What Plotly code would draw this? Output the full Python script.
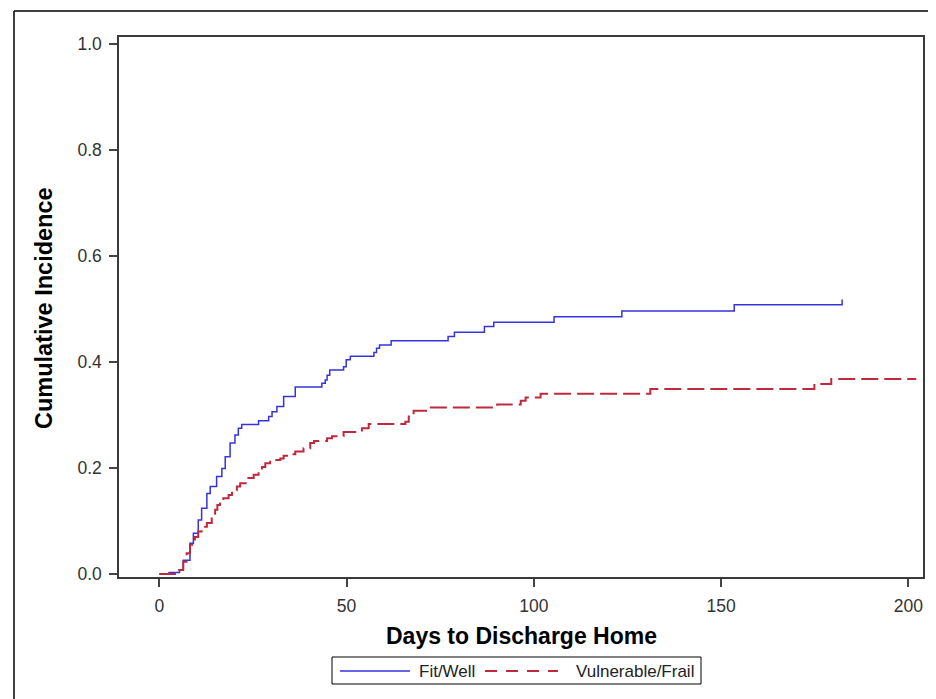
import plotly.graph_objects as go

# ---- data ----
fit_days = [0, 2.6, 5.4, 6.4, 8.2, 9.1, 10.4, 11.3, 12.7, 13.6, 15.3, 16.7, 17.6, 18.9, 20.2,
            21.1, 22.0, 26.5, 29.2, 30.1, 31.4, 33.2, 36.3, 43.4, 44.3, 44.8, 45.5, 49.2, 49.9,
            51.0, 57.3, 58.0, 58.8, 61.9, 77.1, 78.8, 86.8, 89.3, 105.4, 123.5, 153.5, 182.3]
fit_cif = [0, 0.003, 0.0075, 0.026, 0.058, 0.077, 0.102, 0.124, 0.152, 0.165, 0.184, 0.199, 0.221,
           0.247, 0.262, 0.275, 0.282, 0.289, 0.297, 0.306, 0.316, 0.335, 0.353, 0.360, 0.366,
           0.375, 0.385, 0.391, 0.404, 0.411, 0.418, 0.426, 0.432, 0.440, 0.448, 0.456, 0.467,
           0.475, 0.4855, 0.496, 0.508, 0.518]

frail_days = [0, 4.2, 5.3, 6.4, 7.3, 8.2, 9.5, 10.4, 11.3, 12.7, 14.0, 14.9, 15.5, 16.2, 17.1,
              18.5, 19.4, 20.7, 21.6, 23.4, 25.2, 26.5, 27.4, 28.3, 29.6, 32.3, 33.2, 34.5, 36.3,
              38.5, 40.3, 41.3, 44.8, 46.1, 49.2, 54.1, 55.9, 65.7, 66.6, 67.9, 71.9, 90.2, 96.5,
              97.8, 101.8, 131.1, 174.9, 179.4, 202.1]
frail_cif = [0, 0.003, 0.0075, 0.023, 0.039, 0.055, 0.070, 0.080, 0.089, 0.096, 0.108, 0.121,
             0.130, 0.133, 0.143, 0.149, 0.158, 0.165, 0.171, 0.181, 0.187, 0.193, 0.202, 0.209,
             0.215, 0.218, 0.223, 0.226, 0.231, 0.237, 0.247, 0.251, 0.256, 0.260, 0.268, 0.275,
             0.283, 0.287, 0.297, 0.308, 0.314, 0.320, 0.327, 0.333, 0.340, 0.349, 0.3585,
             0.368, 0.368]

series_names = ["Fit/Well", "Vulnerable/Frail"]
x_ticks = [0, 50, 100, 150, 200]
y_ticks = [0.0, 0.2, 0.4, 0.6, 0.8, 1.0]

BLUE = "#3434DC"
RED = "#BE2A3C"
FONT = "Liberation Sans, Arial, sans-serif"

fig = go.Figure()
fig.add_trace(go.Scatter(x=fit_days, y=fit_cif, mode="lines", line_shape="hv",
                         name=series_names[0], line=dict(color=BLUE, width=1.5)))
fig.add_trace(go.Scatter(x=frail_days, y=frail_cif, mode="lines", line_shape="hv",
                         name=series_names[1], line=dict(color=RED, width=2, dash="17px,6px")))

# plot area in page px: x 119..923, y 37..577 (figure sits at page offset 8,8)
def px_x(p):
    return (p - 119) / 804.0

def px_y(p):
    return (577 - p) / 540.0

axis_common = dict(showgrid=False, zeroline=False, showline=True, mirror=True,
                   linecolor="#3a3a3a", linewidth=1.5, ticks="outside", ticklen=8,
                   tickwidth=1.5, tickcolor="#444",
                   tickfont=dict(family=FONT, size=17.5, color="#333"))

fig.update_xaxes(range=[-10.76, 203.9], tickvals=x_ticks, ticklabelstandoff=4, **axis_common)
fig.update_yaxes(range=[-0.0057, 1.0132], tickvals=y_ticks, tickformat=".1f",
                 ticklabelstandoff=4, **axis_common)

shapes = [
    # outer frame (left and top edges)
    dict(type="line", xref="paper", yref="paper", x0=px_x(14), x1=px_x(14),
         y0=px_y(11), y1=px_y(720), line=dict(color="black", width=1.5)),
    dict(type="line", xref="paper", yref="paper", x0=px_x(14), x1=px_x(950),
         y0=px_y(11), y1=px_y(11), line=dict(color="black", width=1.5)),
    # legend box
    dict(type="rect", xref="paper", yref="paper", x0=px_x(332), x1=px_x(701),
         y0=px_y(657), y1=px_y(684), line=dict(color="black", width=1)),
    dict(type="line", xref="paper", yref="paper", x0=px_x(340), x1=px_x(410),
         y0=px_y(671), y1=px_y(671), line=dict(color=BLUE, width=1.5)),
    dict(type="line", xref="paper", yref="paper", x0=px_x(485), x1=px_x(558),
         y0=px_y(671), y1=px_y(671), line=dict(color=RED, width=2, dash="12px,9px")),
]

annotations = [
    dict(text="<b>Days to Discharge Home</b>", xref="paper", yref="paper",
         x=px_x(521), y=px_y(636), xanchor="center", yanchor="middle", showarrow=False,
         font=dict(family=FONT, size=23, color="black")),
    dict(text="<b>Cumulative Incidence</b>", xref="paper", yref="paper",
         x=px_x(44), y=px_y(308), xanchor="center", yanchor="middle", showarrow=False,
         textangle=-90, font=dict(family=FONT, size=23.5, color="black")),
    dict(text=series_names[0], xref="paper", yref="paper", x=px_x(417), y=px_y(671),
         xanchor="left", yanchor="middle", showarrow=False,
         font=dict(family=FONT, size=17, color="#222")),
    dict(text=series_names[1], xref="paper", yref="paper", x=px_x(574), y=px_y(671),
         xanchor="left", yanchor="middle", showarrow=False,
         font=dict(family=FONT, size=17, color="#222")),
]

fig.update_layout(width=928, height=691, margin=dict(l=111, r=13, t=29, b=122),
                  plot_bgcolor="white", paper_bgcolor="white", showlegend=False,
                  shapes=shapes, annotations=annotations,
                  font=dict(family=FONT))

fig.write_html("out.html")
